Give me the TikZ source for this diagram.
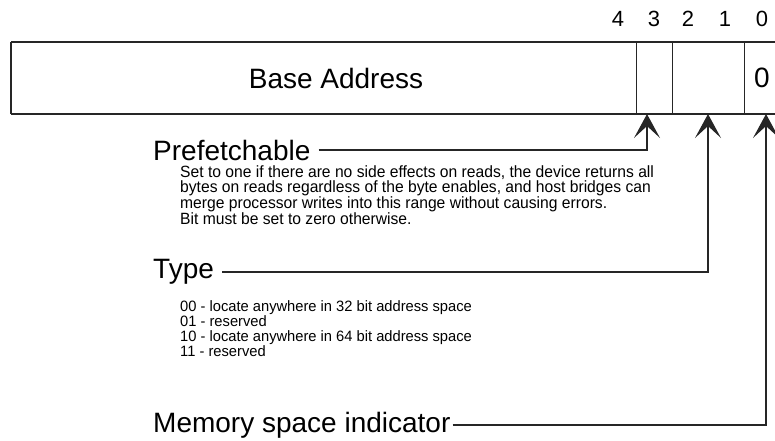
\documentclass[tikz,border=0pt]{standalone}
\usepackage{fontspec}
\setmainfont{Liberation Sans}
\newfontfamily\notefamily[FakeStretch=0.96]{Liberation Sans}
\newfontfamily\codefamily[FakeStretch=0.98]{Liberation Sans}
\usetikzlibrary{arrows.meta,positioning}
\newcommand{\regfont}{\fontsize{28}{32}\selectfont}
\newcommand{\bitfont}{\fontsize{22}{24}\selectfont}
\newcommand{\notefont}{\notefamily\fontsize{16.3}{15}\selectfont}
\newcommand{\codefont}{\codefamily\fontsize{15}{15}\selectfont}
\tikzset{
  regcell/.style={rectangle, draw=black!85, line width=1pt, anchor=north west,
                  minimum height=72pt, inner sep=0pt, outer sep=0pt},
  regedge/.style={draw=black!85, line width=1.6pt},
  bitnum/.style={font=\bitfont, inner sep=0pt},
  fieldname/.style={font=\regfont, anchor=west, inner sep=0pt},
  fieldnote/.style={font=\notefont, align=left, anchor=north west, inner sep=0pt},
  codenote/.style={fieldnote, font=\codefont},
  pointer/.style={-{Stealth[length=24pt, width=26pt, inset=12pt]},
                  line width=1.2pt, draw=black!85},
}

\begin{document}
\begin{tikzpicture}[x=1pt, y=-1pt]
    \useasboundingbox (0,0) rectangle (775,440);
    \clip (0,0) rectangle (775,440);
    % register fields
    \node[regcell, minimum width=625pt] (base) at (11,42) {};
    \node[regcell, minimum width=36pt] (bit3) at (636,42) {};
    \node[regcell, minimum width=72pt] (bit21) at (672,42) {};
    \node[regcell, minimum width=60pt] (bit0) at (744,42) {};
    \draw[regedge] (base.north west) -- (bit0.north east);
    \draw[regedge] (base.south west) -- (bit0.south east);
    \draw[regedge] (base.north west) -- (base.south west);
    \node[font=\regfont] (addr) at (336,78) {Base Address};
    \node[font=\regfont] (zero) at (762,78) {0};
    % bit numbers
    \node[bitnum] (n4) at (618,19) {4};
    \node[bitnum] (n3) at (654,19) {3};
    \node[bitnum] (n2) at (688,19) {2};
    \node[bitnum] (n1) at (725,19) {1};
    \node[bitnum] (n0) at (762,19) {0};
    % field descriptions
    \node[fieldname] (prefetch) at (153,150) {Prefetchable};
    \node[fieldnote, at={([xshift=27pt, yshift=-5pt]prefetch.south west)}] (prefnote)
      {Set to one if there are no side effects on reads, the device returns all\\
       bytes on reads regardless of the byte enables, and host bridges can\\
       merge processor writes into this range without causing errors.\\
       Bit must be set to zero otherwise.};
    \node[fieldname] (type) at (153,272) {Type};
    \node[codenote, at={([xshift=27pt, yshift=-16pt]type.south west)}] (typenote)
      {00 - locate anywhere in 32 bit address space\\
       01 - reserved\\
       10 - locate anywhere in 64 bit address space\\
       11 - reserved};
    \node[fieldname] (memory) at (153,425) {Memory space indicator};
    % pointers
    \draw[pointer] ([xshift=8pt]prefetch.east) -| ([xshift=-7pt]bit3.south);
    \draw[pointer] ([xshift=8pt]type.east) -| (bit21.south);
    \draw[pointer] ([xshift=2pt]memory.east) -| ([xshift=22pt]bit0.south west);
\end{tikzpicture}
\end{document}
